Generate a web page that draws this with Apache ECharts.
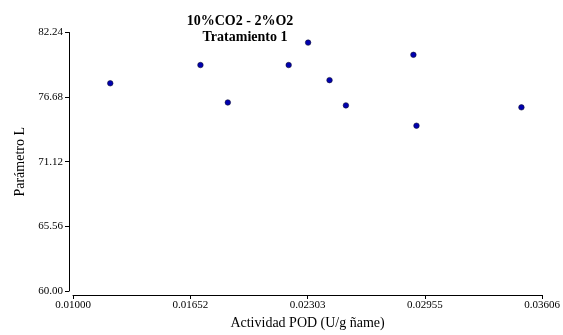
<!DOCTYPE html>
<html>
<head>
<meta charset="utf-8">
<script src="https://cdn.jsdelivr.net/npm/echarts@6/dist/echarts.min.js"></script>
<style>html,body{margin:0;padding:0;background:#fff}#c{width:563px;height:335px}</style>
</head>
<body>
<div id="c"></div>
<script>
var xValues = [0.01207, 0.01708, 0.01860, 0.02198, 0.02306, 0.02425, 0.02516, 0.02891, 0.02908, 0.03491];
var yValues = [77.87, 79.44, 76.22, 79.44, 81.37, 78.14, 75.97, 80.32, 74.22, 75.80];
var xTickLabels = ['0.01000', '0.01652', '0.02303', '0.02955', '0.03606'];
var yTickLabels = ['60.00', '65.56', '71.12', '76.68', '82.24'];
var titleLines = ['10%CO2 - 2%O2', 'Tratamiento 1'];
var xMin = 0.01, xMax = 0.03606, xInterval = 0.006515;
var yMin = 60, yMax = 82.24, yInterval = 5.56;

var pts = xValues.map(function (x, i) { return [x, yValues[i]]; });
var font = 'Liberation Serif';
var chart = echarts.init(document.getElementById('c'), null, {renderer: 'canvas'});
chart.setOption({
  animation: false,
  graphic: [
    {type: 'text', x: 240, y: 21, style: {text: titleLines[0], fontFamily: font, fontWeight: 'bold', fontSize: 14, fill: '#000', align: 'center', verticalAlign: 'middle'}},
    {type: 'text', x: 245, y: 37, style: {text: titleLines[1], fontFamily: font, fontWeight: 'bold', fontSize: 14, fill: '#000', align: 'center', verticalAlign: 'middle'}}
  ],
  grid: {left: 73, right: 15, top: 32.5, bottom: 40},
  xAxis: {
    type: 'value', min: xMin, max: xMax, interval: xInterval, offset: 4,
    name: 'Actividad POD (U/g ñame)', nameLocation: 'middle', nameGap: 21,
    nameTextStyle: {fontFamily: font, fontSize: 14, color: '#000'},
    axisLine: {show: true, lineStyle: {color: '#000', width: 1}},
    axisTick: {show: true, length: 4, lineStyle: {color: '#000'}},
    splitLine: {show: false},
    axisLabel: {
      fontFamily: font, fontSize: 11, color: '#000', margin: 5,
      formatter: function (v) { return xTickLabels[Math.round((v - xMin) / xInterval)]; }
    }
  },
  yAxis: {
    type: 'value', min: yMin, max: yMax, interval: yInterval, offset: 4,
    name: 'Parámetro L', nameLocation: 'middle', nameGap: 42,
    nameTextStyle: {fontFamily: font, fontSize: 14, color: '#000'},
    axisLine: {show: true, lineStyle: {color: '#000', width: 1}},
    axisTick: {show: true, length: 4, lineStyle: {color: '#000'}},
    splitLine: {show: false},
    axisLabel: {
      fontFamily: font, fontSize: 11, color: '#000', margin: 6,
      formatter: function (v) { return yTickLabels[Math.round((v - yMin) / yInterval)]; }
    }
  },
  series: [{
    type: 'scatter', data: pts, symbolSize: 5.5,
    itemStyle: {color: '#0000b0', borderColor: '#101030', borderWidth: 0.6, opacity: 1}
  }]
});
</script>
</body>
</html>
